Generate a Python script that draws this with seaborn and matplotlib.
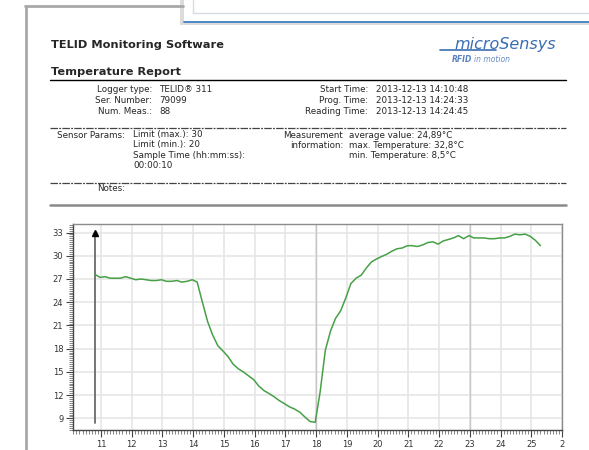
import matplotlib
matplotlib.use('Agg')
import matplotlib.pyplot as plt
import seaborn as sns
import pandas as pd
from matplotlib.lines import Line2D
from matplotlib.patches import Rectangle
from matplotlib.ticker import MultipleLocator

# ---------------- data ----------------
minutes = [10.80, 10.97, 11.13, 11.30, 11.47, 11.63, 11.80, 11.97, 12.13, 12.30,
           12.47, 12.63, 12.80, 12.97, 13.13, 13.30, 13.47, 13.63, 13.80, 13.97,
           14.13, 14.30, 14.47, 14.63, 14.80, 14.97, 15.13, 15.30, 15.47, 15.63,
           15.80, 15.97, 16.13, 16.30, 16.47, 16.63, 16.80, 16.97, 17.13, 17.30,
           17.47, 17.63, 17.80, 17.97, 18.13, 18.30, 18.47, 18.63, 18.80, 18.97,
           19.13, 19.30, 19.47, 19.63, 19.80, 19.97, 20.13, 20.30, 20.47, 20.63,
           20.80, 20.97, 21.13, 21.30, 21.47, 21.63, 21.80, 21.97, 22.13, 22.30,
           22.47, 22.63, 22.80, 22.97, 23.13, 23.30, 23.47, 23.63, 23.80, 23.97,
           24.13, 24.30, 24.47, 24.63, 24.80, 24.97, 25.13, 25.30]
temps = [27.6, 27.2, 27.3, 27.1, 27.1, 27.1, 27.3, 27.1, 26.9, 27.0,
         26.9, 26.8, 26.8, 26.9, 26.7, 26.7, 26.8, 26.6, 26.7, 26.9,
         26.6, 24.0, 21.5, 19.8, 18.4, 17.7, 17.0, 16.0, 15.4, 15.0,
         14.5, 14.0, 13.2, 12.6, 12.2, 11.8, 11.3, 10.9, 10.5, 10.2,
         9.8, 9.2, 8.6, 8.5, 12.4, 17.8, 20.3, 21.9, 22.9, 24.6,
         26.4, 27.1, 27.5, 28.4, 29.2, 29.6, 29.9, 30.2, 30.6, 30.9,
         31.0, 31.3, 31.3, 31.2, 31.4, 31.7, 31.8, 31.5, 31.9, 32.1,
         32.3, 32.6, 32.2, 32.6, 32.3, 32.3, 32.3, 32.2, 32.2, 32.3,
         32.3, 32.5, 32.8, 32.7, 32.8, 32.5, 32.0, 31.3]
x_ticks = [11, 12, 13, 14, 15, 16, 17, 18, 19, 20, 21, 22, 23, 24, 25, 26]
x_tick_labels = ['11', '12', '13', '14', '15', '16', '17', '18', '19', '20',
                 '21', '22', '23', '24', '25', '2']
y_ticks = [9, 12, 15, 18, 21, 24, 27, 30, 33]
start_minute = 10.8

title = "TELID Monitoring Software"
subtitle = "Temperature Report"
logger_labels = ["Logger type:", "Ser. Number:", "Num. Meas.:"]
logger_values = ["TELID\u00ae 311", "79099", "88"]
time_labels = ["Start Time:", "Prog. Time:", "Reading Time:"]
time_values = ["2013-12-13 14:10:48", "2013-12-13 14:24:33", "2013-12-13 14:24:45"]
sensor_values = ["Limit (max.): 30", "Limit (min.): 20",
                 "Sample Time (hh:mm:ss):", "00:00:10"]
meas_labels = ["Measurement", "information:"]
meas_values = ["average value: 24,89\u00b0C", "max. Temperature: 32,8\u00b0C",
               "min. Temperature: 8,5\u00b0C"]

# ---------------- figure ----------------
W, H = 589, 450
sns.set_style('white')
plt.rcParams['font.family'] = ['DejaVu Sans']

fig = plt.figure(figsize=(W / 100, H / 100), dpi=100)
fig.patch.set_facecolor('white')


def fx(x):
    return x / W


def fy(y):
    return 1 - y / H


def hline(x1, x2, y, **kw):
    fig.add_artist(Line2D([fx(x1), fx(x2)], [fy(y), fy(y)],
                          transform=fig.transFigure, **kw))


def vline(x, y1, y2, **kw):
    fig.add_artist(Line2D([fx(x), fx(x)], [fy(y1), fy(y2)],
                          transform=fig.transFigure, **kw))


def txt(x, y, s, **kw):
    kw.setdefault('va', 'center')
    fig.text(fx(x), fy(y), s, **kw)


# page border
vline(25.5, 6, 450, color='#a8a8a8', lw=2)
hline(25, 183, 6, color='#a8a8a8', lw=2)

# overlapping window at top
fig.add_artist(Rectangle((fx(180), fy(25)), (W - 180) / W, 25 / H,
                         transform=fig.transFigure, facecolor='#dcdcdc',
                         edgecolor='none'))
fig.add_artist(Rectangle((fx(184), fy(22)), (W - 184) / W, 22 / H,
                         transform=fig.transFigure, facecolor='white',
                         edgecolor='none'))
hline(184, W, 21.5, color='#3f7fc3', lw=1.3)
hline(193, W, 13, color='#d6dce4', lw=1)
vline(193, 0, 13, color='#d6dce4', lw=1)

# headings
txt(51, 45, title, fontsize=8.2, fontweight='bold', ha='left')
txt(51, 72, subtitle, fontsize=8.2, fontweight='bold', ha='left')
hline(50, 566, 79.5, color='black', lw=1)

# logo
logo_blue = '#3a6db3'
fig.text(fx(454), fy(49), "microSensys", fontsize=11.5, style='italic',
         color=logo_blue, ha='left', va='baseline')
hline(440, 496, 49.5, color=logo_blue, lw=1.2)
txt(452, 60, "RFID", fontsize=5.5, fontweight='bold', style='italic',
    color='#5a82be', ha='left')
txt(474, 60, "in motion", fontsize=5.5, style='italic', color='#6a8ec6',
    ha='left')

fs = 6.3
for i, (lab, val) in enumerate(zip(logger_labels, logger_values)):
    y = 90 + i * 10.5
    txt(152, y, lab, fontsize=fs, ha='right')
    txt(159, y, val, fontsize=fs, ha='left')
for i, (lab, val) in enumerate(zip(time_labels, time_values)):
    y = 90 + i * 10.5
    txt(368, y, lab, fontsize=fs, ha='right')
    txt(376, y, val, fontsize=fs, ha='left')

dash = (0, (6, 1, 1.5, 1))
hline(50, 566, 127.5, color='#444444', lw=0.9, linestyle=dash)

txt(125, 135, "Sensor Params:", fontsize=fs, ha='right')
for i, val in enumerate(sensor_values):
    txt(133, 135 + i * 10, val, fontsize=fs, ha='left')
for i, lab in enumerate(meas_labels):
    txt(343, 135 + i * 10, lab, fontsize=fs, ha='right')
for i, val in enumerate(meas_values):
    txt(349, 135 + i * 10, val, fontsize=fs, ha='left')

hline(50, 566, 182.5, color='#444444', lw=0.9, linestyle=dash)
txt(125, 189, "Notes:", fontsize=fs, ha='right')
hline(50, 566, 205, color='#8a8a8a', lw=1.8)

# ---------------- chart ----------------
ax = fig.add_axes([fx(73), fy(430), (562 - 73) / W, (430 - 224) / H])
ax.set_facecolor('white')
df = pd.DataFrame({'Time': minutes, 'Temp': temps})
sns.lineplot(data=df, x='Time', y='Temp', ax=ax, color='#46a046', lw=1.1,
             zorder=3)

ax.set_xlim(10.09, 26.0)
ax.set_ylim(7.5, 34.1)
ax.set_xticks(x_ticks)
ax.set_xticklabels(x_tick_labels)
ax.set_yticks(y_ticks)
ax.xaxis.set_minor_locator(MultipleLocator(0.1))
ax.yaxis.set_minor_locator(MultipleLocator(0.25))
ax.tick_params(which='both', bottom=True, left=True, top=False, right=False)
ax.tick_params(which='major', direction='out', length=5, width=0.8,
               color='#444444', labelsize=6, labelcolor='#333333', pad=2)
ax.tick_params(which='minor', direction='out', length=3, width=0.5,
               color='#555555')
ax.set_xlabel('')
ax.set_ylabel('')
ax.grid(True, which='major', color='#e6e6e6', lw=1.2)
ax.set_axisbelow(True)
for xv in (18, 23):
    ax.axvline(xv, color='#c6c6c6', lw=1.0, zorder=1)

for side in ('left', 'bottom'):
    ax.spines[side].set_color('#444444')
    ax.spines[side].set_linewidth(1.0)
for side in ('top', 'right'):
    ax.spines[side].set_color('#8c8c8c')
    ax.spines[side].set_linewidth(1.0)

# start-time marker arrow
ax.plot([start_minute, start_minute], [8.4, 32.9], color='#6a6a6a', lw=1.3,
        zorder=2)
ax.plot([start_minute], [33.0], marker='^', color='black', ms=5, zorder=4)

fig.savefig('out.png', dpi=100, facecolor='white')
